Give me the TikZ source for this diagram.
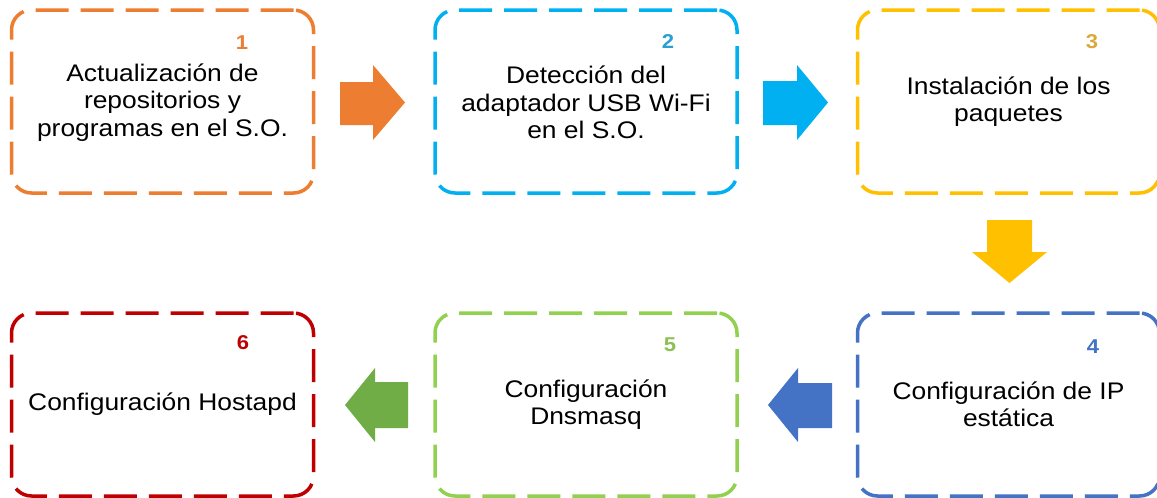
\documentclass[tikz,border=0pt]{standalone}
\usepackage{fontspec}
\setmainfont{Liberation Sans}[FakeStretch=1.1]
\begin{document}
\begin{tikzpicture}[x=1pt,y=-1pt,
  stepbox/.style={draw, line width=3.5pt, dash pattern=on 33pt off 12pt,
    rounded corners=20pt, minimum width=302pt, minimum height=183pt,
    align=center, inner sep=0pt, text=black,
    font=\fontsize{24}{27.5}\selectfont},
  num/.style={font=\bfseries\fontsize{20}{20}\selectfont, inner sep=0pt}]
\definecolor{cOr}{HTML}{ED7D31}
\definecolor{cLb}{HTML}{00B0F0}
\definecolor{cLbN}{HTML}{2A9FD0}
\definecolor{cYe}{HTML}{FFC000}
\definecolor{cYeN}{HTML}{D9AA3A}
\definecolor{cBl}{HTML}{4472C4}
\definecolor{cGr}{HTML}{92D050}
\definecolor{cGrN}{HTML}{8CC152}
\definecolor{cGa}{HTML}{70AD47}
\definecolor{cRe}{HTML}{C00000}
\useasboundingbox[fill=white] (0,0) rectangle (1157,498);

\node[stepbox, draw=cOr] (b1) at (162.5,101.5) {\strut Actualización de\\repositorios y\\programas en el S.O.};
\node[stepbox, draw=cLb] (b2) at (586,101.5) {\strut Detección del\\adaptador USB Wi-Fi\\en el S.O.};
\node[stepbox, draw=cYe] (b3) at (1008.5,101.5) {Instalación de los\\paquetes};
\node[stepbox, draw=cBl] (b4) at (1008.5,404.5) {Configuración de IP\\estática};
\node[stepbox, draw=cGr] (b5) at (586,404.5) {Configuración\\Dnsmasq};
\node[stepbox, draw=cRe] (b6) at (162.5,404.5) {Configuración Hostapd};

\node[num, text=cOr] (n1) at (242,43) {1};
\node[num, text=cLbN] (n2) at (668,42) {2};
\node[num, text=cYeN] (n3) at (1092,42) {3};
\node[num, text=cBl] (n4) at (1093,347) {4};
\node[num, text=cGrN] (n5) at (670,345) {5};
\node[num, text=cRe] (n6) at (243,343) {6};

% block arrows
\fill[cOr] (340,82) -- (373,82) -- (373,65) -- (405,102.5) -- (373,140) -- (373,125) -- (340,125) -- cycle;
\fill[cLb] (763,81) -- (797,81) -- (797,65) -- (828,102.5) -- (797,140) -- (797,125) -- (763,125) -- cycle;
\fill[cYe] (987,220) -- (1032,220) -- (1032,252) -- (1047,252) -- (1009.5,283) -- (972,252) -- (987,252) -- cycle;
\fill[cBl] (832,383) -- (798,383) -- (798,368) -- (768,405) -- (798,442) -- (798,428) -- (832,428) -- cycle;
\fill[cGa] (408,382) -- (375,382) -- (375,368) -- (345,405) -- (375,442) -- (375,428) -- (408,428) -- cycle;
\end{tikzpicture}
\end{document}
